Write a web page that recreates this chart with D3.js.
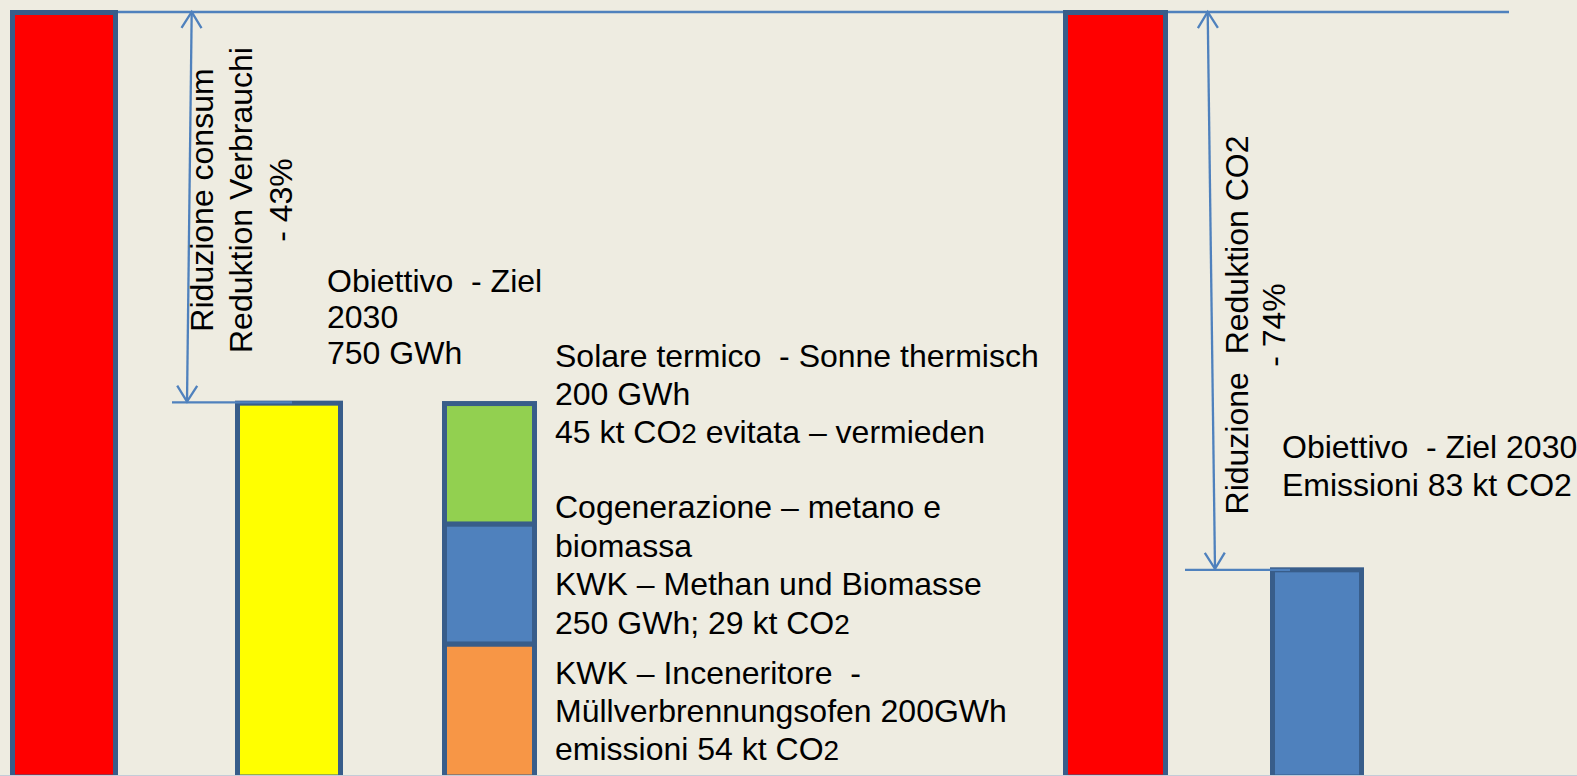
<!DOCTYPE html>
<html>
<head>
<meta charset="utf-8">
<script src="https://cdn.jsdelivr.net/npm/d3@7/dist/d3.min.js"></script>
<style>
  html, body { margin: 0; padding: 0; background: #EEECE1; }
  svg { display: block; }
  text { font-family: "Liberation Sans", Arial, sans-serif; font-size: 32px; fill: #000; white-space: pre; }
</style>
</head>
<body>
<svg id="chart" width="1577" height="776"></svg>
<script>
// ---- data (relative heights, baseline = 100) ----
const barCategories = ["Consumi attuali", "Obiettivo 2030", "Emissioni attuali", "Obiettivo emissioni 2030"];
const barValues = [100, 48.9, 100, 27.1];
const stackCategories = ["Inceneritore", "Cogenerazione", "Solare termico"];
const stackValues = [17.4, 15.7, 15.75];

const labelTarget = ["Obiettivo  - Ziel", "2030", "750 GWh"];
const labelSolar = ["Solare termico  - Sonne thermisch", "200 GWh", "45 kt CO|2| evitata – vermieden"];
const labelCogen = ["Cogenerazione – metano e", "biomassa", "KWK – Methan und Biomasse", "250 GWh; 29 kt CO|2|"];
const labelIncin = ["KWK – Inceneritore  -", "Müllverbrennungsofen 200GWh", "emissioni 54 kt CO|2|"];
const labelTargetCO2 = ["Obiettivo  - Ziel 2030", "Emissioni 83 kt CO2"];
const labelReduction1 = ["Riduzione consum", "Reduktion Verbrauchi", "- 43%"];
const labelReduction2 = ["Riduzione  Reduktion CO2", "- 74%"];

// ---- layout ----
const svg = d3.select("#chart");
const W = 1577, H = 776;
svg.append("rect").attr("width", W).attr("height", H).attr("fill", "#EEECE1");

const y = d3.scaleLinear().domain([0, 100]).range([777, 12.5]);
const allCats = [barCategories[0], barCategories[1], "Interventi", barCategories[2], barCategories[3]];
const xLeft = d3.scaleOrdinal().domain(allCats).range([12.5, 237.5, 444.5, 1065.5, 1272.5]);
const bw = d3.scaleOrdinal().domain(allCats).range([103, 103, 90, 100, 89]);
const fillOf = d3.scaleOrdinal().domain(barCategories).range(["#FF0000", "#FFFF00", "#FF0000", "#4F81BD"]);
const stackFill = d3.scaleOrdinal().domain(stackCategories).range(["#F79646", "#4F81BD", "#92D050"]);
const outline = "#385D8A", lineCol = "#4F81BD";

// top reference line (under bars)
svg.append("line").attr("x1", 10).attr("x2", 1509).attr("y1", 12).attr("y2", 12)
  .attr("stroke", lineCol).attr("stroke-width", 2.3);

// simple bars
svg.selectAll("rect.bar").data(barCategories).enter().append("rect")
  .attr("class", "bar")
  .attr("x", d => xLeft(d)).attr("width", d => bw(d))
  .attr("y", (d, i) => y(barValues[i])).attr("height", (d, i) => y(0) - y(barValues[i]))
  .attr("fill", d => fillOf(d)).attr("stroke", outline).attr("stroke-width", 5);

// stacked bar
const stacked = d3.stack().keys(stackCategories)([Object.fromEntries(stackCategories.map((k, i) => [k, stackValues[i]]))]);
svg.selectAll("rect.seg").data(stacked).enter().append("rect")
  .attr("class", "seg")
  .attr("x", xLeft("Interventi")).attr("width", bw("Interventi"))
  .attr("y", d => y(d[0][1])).attr("height", d => y(d[0][0]) - y(d[0][1]))
  .attr("fill", d => stackFill(d.key)).attr("stroke", outline).attr("stroke-width", 5);

// faint bottom line
svg.append("line").attr("x1", 0).attr("x2", W).attr("y1", 775.5).attr("y2", 775.5)
  .attr("stroke", "#C3CCD8").attr("stroke-width", 1);

// level lines at targets
svg.append("line").attr("x1", 172).attr("x2", 292).attr("y1", y(barValues[1]) - 0.7).attr("y2", y(barValues[1]) - 0.7)
  .attr("stroke", lineCol).attr("stroke-width", 2.3);
svg.append("line").attr("x1", 1185).attr("x2", 1290).attr("y1", y(barValues[3])).attr("y2", y(barValues[3]))
  .attr("stroke", lineCol).attr("stroke-width", 2.3);

// double arrows
function dblArrow(x1, y1, x2, y2) {
  const g = svg.append("g").attr("stroke", lineCol).attr("stroke-width", 2.3).attr("fill", "none");
  g.append("line").attr("x1", x1).attr("y1", y1).attr("x2", x2).attr("y2", y2);
  const L = Math.hypot(x2 - x1, y2 - y1), ux = (x2 - x1) / L, uy = (y2 - y1) / L;
  const head = (tx, ty, dx, dy) => {
    const len = 16, hw = 10;
    const bx = tx + dx * len, by = ty + dy * len;
    g.append("path").attr("d", `M${bx - dy * hw},${by + dx * hw}L${tx},${ty}L${bx + dy * hw},${by - dx * hw}`);
  };
  head(x1, y1, ux, uy);
  head(x2, y2, -ux, -uy);
}
dblArrow(191.7, y(100) - 0.5, 187, y(barValues[1]) - 1.5);
dblArrow(1207.7, y(100) - 0.5, 1215, y(barValues[3]) - 1);

// multi-line text helper; "|2|" marks a smaller "2"
function block(lines, x, y0, dy) {
  const t = svg.append("text").attr("x", x).attr("y", y0);
  lines.forEach((ln, i) => {
    const parts = ln.split("|");
    parts.forEach((p, j) => {
      const ts = t.append("tspan").text(p);
      if (j === 0) ts.attr("x", x).attr("y", y0 + i * dy);
      if (j % 2 === 1) ts.style("font-size", "28px");
    });
  });
  return t;
}
block(labelTarget, 327, 291.7, 36.2);
block(labelSolar, 555, 366.7, 38.2);
block(labelCogen, 555, 518, 38.7);
block(labelIncin, 555, 684, 38.2);
block(labelTargetCO2, 1282, 458, 38.4);

function rotBlock(lines, xs, cy) {
  lines.forEach((ln, i) => {
    svg.append("text").attr("transform", `translate(${xs[i]},${cy}) rotate(-90)`)
      .attr("text-anchor", "middle").text(ln);
  });
}
rotBlock(labelReduction1, [213, 251.7, 291.7], 200);
rotBlock(labelReduction2, [1248, 1285], 325);
</script>
</body>
</html>
